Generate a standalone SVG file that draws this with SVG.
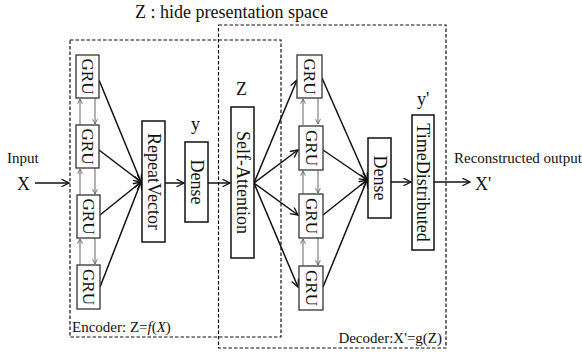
<svg xmlns="http://www.w3.org/2000/svg" width="582" height="353" viewBox="0 0 582 353">
  <defs>
    <style>
      text { font-family: "Liberation Serif", "Times New Roman", serif; fill: #111; }
      .box { fill: #fff; stroke: #111; stroke-width: 1.5; }
      .gru { fill: #fff; stroke: #333; stroke-width: 1.3; }
      .vt { font-size: 18px; text-anchor: middle; dominant-baseline: central; }
      .gt { font-size: 17px; text-anchor: middle; dominant-baseline: central; }
      .lbl { font-size: 18px; }
      .sm { font-size: 15px; }
      .dash { fill: none; stroke: #111; stroke-width: 1.2; stroke-dasharray: 3.5 2; }
      .arr { fill: none; stroke: #111; stroke-width: 1.5; marker-end: url(#head); }
      .thin { fill: none; stroke: #666; stroke-width: 1; marker-end: url(#small); }
    </style>
    <marker id="head" viewBox="0 0 12 12" refX="11" refY="6" markerWidth="9" markerHeight="9" markerUnits="userSpaceOnUse" orient="auto">
      <path d="M1,1 L11,6 L1,11" fill="none" stroke="#111" stroke-width="1.8"/>
    </marker>
    <marker id="small" viewBox="0 0 10 10" refX="9" refY="5" markerWidth="6" markerHeight="6" markerUnits="userSpaceOnUse" orient="auto">
      <path d="M1,1 L9,5 L1,9" fill="none" stroke="#666" stroke-width="1.5"/>
    </marker>
  </defs>

  <rect width="582" height="353" fill="#fff"/>

  <!-- title -->
  <text class="lbl" x="135" y="18">Z : hide presentation space</text>

  <!-- encoder / decoder regions -->
  <g id="encoder-region">
    <rect class="dash" x="70" y="40" width="211" height="297"/>
    <text class="sm" x="72" y="332">Encoder: Z=<tspan font-style="italic">f</tspan>(<tspan font-style="italic">X</tspan>)</text>
  </g>
  <g id="decoder-region">
    <rect class="dash" x="218.5" y="25" width="227.5" height="323"/>
    <text class="sm" x="442" y="343" text-anchor="end">Decoder:X'=g(Z)</text>
  </g>

  <!-- connectors -->
  <g id="connectors">
    <!-- input / output -->
    <line class="arr" x1="35" y1="183" x2="69" y2="183"/>
    <line class="arr" x1="434" y1="182" x2="470" y2="182"/>
    <!-- encoder GRUs to RepeatVector -->
    <line class="arr" x1="99" y1="80" x2="141" y2="182"/>
    <line class="arr" x1="99" y1="150" x2="141" y2="182"/>
    <line class="arr" x1="100" y1="215" x2="141" y2="182"/>
    <line class="arr" x1="100" y1="287" x2="141" y2="182"/>
    <!-- chain -->
    <line class="arr" x1="165" y1="183" x2="184" y2="183"/>
    <line class="arr" x1="208" y1="183" x2="230" y2="183"/>
    <!-- Self-Attention to decoder GRUs -->
    <line class="arr" x1="254" y1="183" x2="297" y2="80"/>
    <line class="arr" x1="254" y1="183" x2="298" y2="150"/>
    <line class="arr" x1="254" y1="183" x2="298" y2="215"/>
    <line class="arr" x1="254" y1="183" x2="298" y2="287"/>
    <!-- decoder GRUs to Dense -->
    <line class="arr" x1="322" y1="78" x2="367" y2="180"/>
    <line class="arr" x1="323" y1="150" x2="367" y2="180"/>
    <line class="arr" x1="323" y1="215" x2="367" y2="180"/>
    <line class="arr" x1="323" y1="287" x2="367" y2="180"/>
    <line class="arr" x1="391" y1="182" x2="411" y2="182"/>
    <!-- recurrent links, encoder -->
    <line class="thin" x1="80" y1="125" x2="80" y2="99"/>
    <line class="thin" x1="95" y1="98" x2="95" y2="124"/>
    <line class="thin" x1="80" y1="195" x2="80" y2="169"/>
    <line class="thin" x1="95" y1="168" x2="95" y2="194"/>
    <line class="thin" x1="80" y1="265" x2="80" y2="239"/>
    <line class="thin" x1="95" y1="238" x2="95" y2="264"/>
    <!-- recurrent links, decoder -->
    <line class="thin" x1="303" y1="125" x2="303" y2="99"/>
    <line class="thin" x1="318" y1="98" x2="318" y2="124"/>
    <line class="thin" x1="303" y1="194" x2="303" y2="171"/>
    <line class="thin" x1="318" y1="170" x2="318" y2="193"/>
    <line class="thin" x1="303" y1="266" x2="303" y2="239"/>
    <line class="thin" x1="318" y1="238" x2="318" y2="265"/>
  </g>

  <!-- input / output labels -->
  <g id="input">
    <text class="sm" x="7" y="163">Input</text>
    <text class="lbl" x="17" y="190">X</text>
  </g>
  <g id="output">
    <text class="sm" x="454" y="163">Reconstructed output</text>
    <text class="lbl" x="475" y="190">X'</text>
  </g>

  <!-- encoder GRUs -->
  <g id="enc-gru-1"><rect class="gru" x="76" y="55" width="23" height="43"/><text class="gt" transform="translate(87.5,76.5) rotate(90)">GRU</text></g>
  <g id="enc-gru-2"><rect class="gru" x="76" y="125" width="23" height="43"/><text class="gt" transform="translate(87.5,146.5) rotate(90)">GRU</text></g>
  <g id="enc-gru-3"><rect class="gru" x="77" y="195" width="23" height="43"/><text class="gt" transform="translate(88.5,216.5) rotate(90)">GRU</text></g>
  <g id="enc-gru-4"><rect class="gru" x="77" y="265" width="23" height="44"/><text class="gt" transform="translate(88.5,287) rotate(90)">GRU</text></g>

  <g id="repeat-vector"><rect class="box" x="142" y="121" width="23" height="121"/><text class="vt" transform="translate(153.5,181.5) rotate(90)">RepeatVector</text></g>

  <g id="enc-dense">
    <text class="lbl" x="191" y="130">y</text>
    <rect class="box" x="185" y="142" width="23" height="80"/><text class="vt" transform="translate(196.5,182) rotate(90)">Dense</text>
  </g>

  <g id="self-attention">
    <text class="lbl" x="236" y="95">Z</text>
    <rect class="box" x="231" y="107" width="23" height="151"/><text class="vt" transform="translate(242.5,182.5) rotate(90)">Self-Attention</text>
  </g>

  <!-- decoder GRUs -->
  <g id="dec-gru-1"><rect class="gru" x="297" y="55" width="25" height="43"/><text class="gt" transform="translate(309.5,76.5) rotate(90)">GRU</text></g>
  <g id="dec-gru-2"><rect class="gru" x="299" y="126" width="24" height="44"/><text class="gt" transform="translate(311,148) rotate(90)">GRU</text></g>
  <g id="dec-gru-3"><rect class="gru" x="299" y="194" width="24" height="44"/><text class="gt" transform="translate(311,216) rotate(90)">GRU</text></g>
  <g id="dec-gru-4"><rect class="gru" x="299" y="266" width="24" height="44"/><text class="gt" transform="translate(311,288) rotate(90)">GRU</text></g>

  <g id="dec-dense"><rect class="box" x="368" y="138" width="23" height="80"/><text class="vt" transform="translate(379.5,178) rotate(90)">Dense</text></g>

  <g id="time-distributed">
    <text class="lbl" x="417" y="105">y'</text>
    <rect class="box" x="412" y="115" width="22" height="135"/><text class="vt" transform="translate(423,182.5) rotate(90)">TimeDistributed</text>
  </g>
</svg>
